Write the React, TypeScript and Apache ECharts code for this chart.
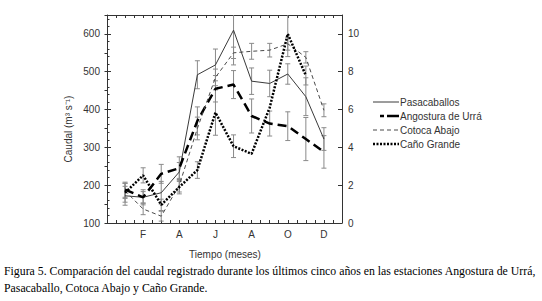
import React, { useEffect, useRef } from "react";
import * as echarts from "echarts";

const months = [1, 2, 3, 4, 5, 6, 7, 8, 9, 10, 11, 12];
const tickMonths = [2, 4, 6, 8, 10, 12];
const tickLetters = ["F", "A", "J", "A", "O", "D"];

const pasacaballos = [172, 168, 180, 235, 492, 518, 610, 475, 469, 494, 434, 322];
const pasacaballosErr = [25, 20, 30, 25, 37, 42, 92, 35, 35, 27, 50, 30];
const angostura = [188, 168, 230, 245, 370, 455, 466, 383, 363, 356, 322, 288];
const angosturaErr = [20, 15, 25, 30, 37, 35, 37, 45, 33, 38, 57, 43];
const cotoca = [185, 137, 118, 200, 350, 485, 550, 554, 557, 574, 538, 398];
const cotocaErr = [20, 15, 13, 18, 30, 22, 15, 21, 18, 17, 15, 17];
const cano = [180, 226, 148, 195, 240, 392, 303, 283, 405, 600, 490, null];
const canoErr = [25, 20, 15, 18, 22, 60, 30, 0, 0, 60, 25, null];

const seriesNames = ["Pasacaballos", "Angostura de Urrá", "Cotoca Abajo", "Caño Grande"];
const captionLines = [
  "Figura 5. Comparación del caudal registrado durante los últimos cinco años en las estaciones Angostura de Urrá,",
  "Pasacaballo, Cotoca Abajo y Caño Grande.",
];
const yTitle = "Caudal (m³ s⁻¹)";
const xTitle = "Tiempo (meses)";

const SANS = "'Liberation Sans', Arial, sans-serif";
const SERIF = "'Liberation Serif', 'Times New Roman', serif";
const TXT = "#333";

function pairs(vals: (number | null)[]) {
  return months.map((m, i) => [m, vals[i]]);
}
function errData(vals: (number | null)[], errs: (number | null)[]) {
  const out: number[][] = [];
  months.forEach((m, i) => {
    const v = vals[i];
    const e = errs[i];
    if (v != null && e != null && e > 0) out.push([m, v - e, v + e]);
  });
  return out;
}

const renderErr = (params: any, api: any) => {
  const x = api.value(0);
  const lo = api.coord([x, api.value(1)]);
  const hi = api.coord([x, api.value(2)]);
  const w = 2.5;
  const st = { stroke: "#8a8a8a", lineWidth: 1 };
  return {
    type: "group",
    children: [
      { type: "line", shape: { x1: hi[0], y1: hi[1], x2: lo[0], y2: lo[1] }, style: st },
      { type: "line", shape: { x1: hi[0] - w, y1: hi[1], x2: hi[0] + w, y2: hi[1] }, style: st },
      { type: "line", shape: { x1: lo[0] - w, y1: lo[1], x2: lo[0] + w, y2: lo[1] }, style: st },
    ],
  };
};

const lineStyles = [
  { color: "#3a3a3a", width: 1, type: "solid" as any },
  { color: "#000", width: 2.5, type: [9, 5] as any },
  { color: "#4a4a4a", width: 1, type: [4, 3] as any },
  { color: "#000", width: 2.5, type: [2, 1.5] as any },
];

export default function App() {
  const ref = useRef<HTMLDivElement>(null);
  useEffect(() => {
    if (!ref.current) return;
    const chart = echarts.init(ref.current, undefined, { renderer: "svg" });
    const vals = [pasacaballos, angostura, cotoca, cano];
    const errs = [pasacaballosErr, angosturaErr, cotocaErr, canoErr];

    const axisCommon = {
      axisLine: { show: true, onZero: false, lineStyle: { color: "#333", width: 1 } },
      splitLine: { show: false },
    };

    const series: any[] = [];
    vals.forEach((v, i) => {
      series.push({
        type: "custom",
        name: seriesNames[i] + " err",
        xAxisIndex: 0,
        yAxisIndex: 0,
        renderItem: renderErr,
        data: errData(v, errs[i]),
        clip: true,
        z: 1,
        silent: true,
      });
    });
    vals.forEach((v, i) => {
      series.push({
        type: "line",
        name: seriesNames[i],
        xAxisIndex: 0,
        yAxisIndex: 0,
        data: pairs(v),
        symbol: "none",
        connectNulls: false,
        lineStyle: lineStyles[i],
        z: 3,
      });
    });

    const legendRows = [102, 116, 130, 144];
    const legendGraphics: any[] = [];
    legendRows.forEach((y, i) => {
      const ls = lineStyles[i];
      if (i === 1) {
        legendGraphics.push({ type: "line", shape: { x1: 380, y1: y, x2: 384, y2: y }, style: { stroke: "#000", lineWidth: 2.5 } });
        legendGraphics.push({ type: "line", shape: { x1: 387, y1: y, x2: 399, y2: y }, style: { stroke: "#000", lineWidth: 2.5 } });
      } else {
        legendGraphics.push({
          type: "line",
          shape: { x1: 373, y1: y, x2: 399, y2: y },
          style: {
            stroke: ls.color,
            lineWidth: ls.width,
            lineDash: Array.isArray(ls.type) ? ls.type : null,
          },
        });
      }
      legendGraphics.push({
        type: "text",
        x: 400,
        y: y,
        style: { text: seriesNames[i], font: `10px ${SANS}`, fill: TXT, verticalAlign: "middle", align: "left" },
      });
    });

    chart.setOption({
      animation: false,
      backgroundColor: "#fff",
      grid: { left: 107, top: 15, width: 235, height: 208, containLabel: false },
      xAxis: [
        {
          type: "value",
          min: 0,
          max: 13,
          interval: 0.5,
          position: "bottom",
          ...axisCommon,
          axisTick: { show: true, inside: true, length: 3, lineStyle: { color: "#333" } },
          axisLabel: {
            color: TXT,
            fontSize: 10,
            fontFamily: SANS,
            margin: 6,
            formatter: (v: number) => {
              const k = tickMonths.indexOf(v);
              return k >= 0 ? tickLetters[k] : "";
            },
          },
        },
        {
          type: "value",
          min: 0,
          max: 13,
          interval: 0.5,
          position: "top",
          ...axisCommon,
          axisTick: { show: true, inside: true, length: 3, lineStyle: { color: "#333" } },
          axisLabel: { show: false },
        },
      ],
      yAxis: [
        {
          type: "value",
          min: 100,
          max: 650,
          interval: 100,
          position: "left",
          ...axisCommon,
          axisTick: { show: true, inside: true, length: 4, lineStyle: { color: "#333" } },
          axisLabel: { color: TXT, fontSize: 10, fontFamily: SANS, margin: 7, showMaxLabel: false },
        },
        {
          type: "value",
          min: 100,
          max: 650,
          interval: 20,
          position: "left",
          axisLine: { show: false },
          splitLine: { show: false },
          axisTick: { show: true, inside: true, length: 2.5, lineStyle: { color: "#333" } },
          axisLabel: { show: false },
        },
        {
          type: "value",
          min: 0,
          max: 11,
          interval: 2,
          position: "right",
          ...axisCommon,
          axisTick: { show: true, inside: true, length: 4, lineStyle: { color: "#333" } },
          axisLabel: { color: TXT, fontSize: 10, fontFamily: SANS, margin: 6, showMaxLabel: false },
        },
        {
          type: "value",
          min: 0,
          max: 11,
          interval: 1,
          position: "right",
          axisLine: { show: false },
          splitLine: { show: false },
          axisTick: { show: true, inside: true, length: 2.5, lineStyle: { color: "#333" } },
          axisLabel: { show: false },
        },
      ],
      series,
      graphic: [
        ...legendGraphics,
        {
          type: "text",
          x: 68,
          y: 129,
          rotation: Math.PI / 2,
          style: { text: yTitle, font: `10px ${SANS}`, fill: TXT, align: "center", verticalAlign: "middle" },
        },
        {
          type: "text",
          x: 225,
          y: 254,
          style: { text: xTitle, font: `10px ${SANS}`, fill: TXT, align: "center", verticalAlign: "middle" },
        },
        {
          type: "text",
          x: 4,
          y: 271,
          style: { text: captionLines[0], font: `11.8px ${SERIF}`, fill: "#000", align: "left", verticalAlign: "middle" },
        },
        {
          type: "text",
          x: 4,
          y: 288,
          style: { text: captionLines[1], font: `11.8px ${SERIF}`, fill: "#000", align: "left", verticalAlign: "middle" },
        },
      ],
    });
    return () => chart.dispose();
  }, []);
  return (
    <div
      ref={ref}
      style={{ position: "absolute", left: 0, top: 0, width: 542, height: 301, background: "#fff" }}
    />
  );
}
